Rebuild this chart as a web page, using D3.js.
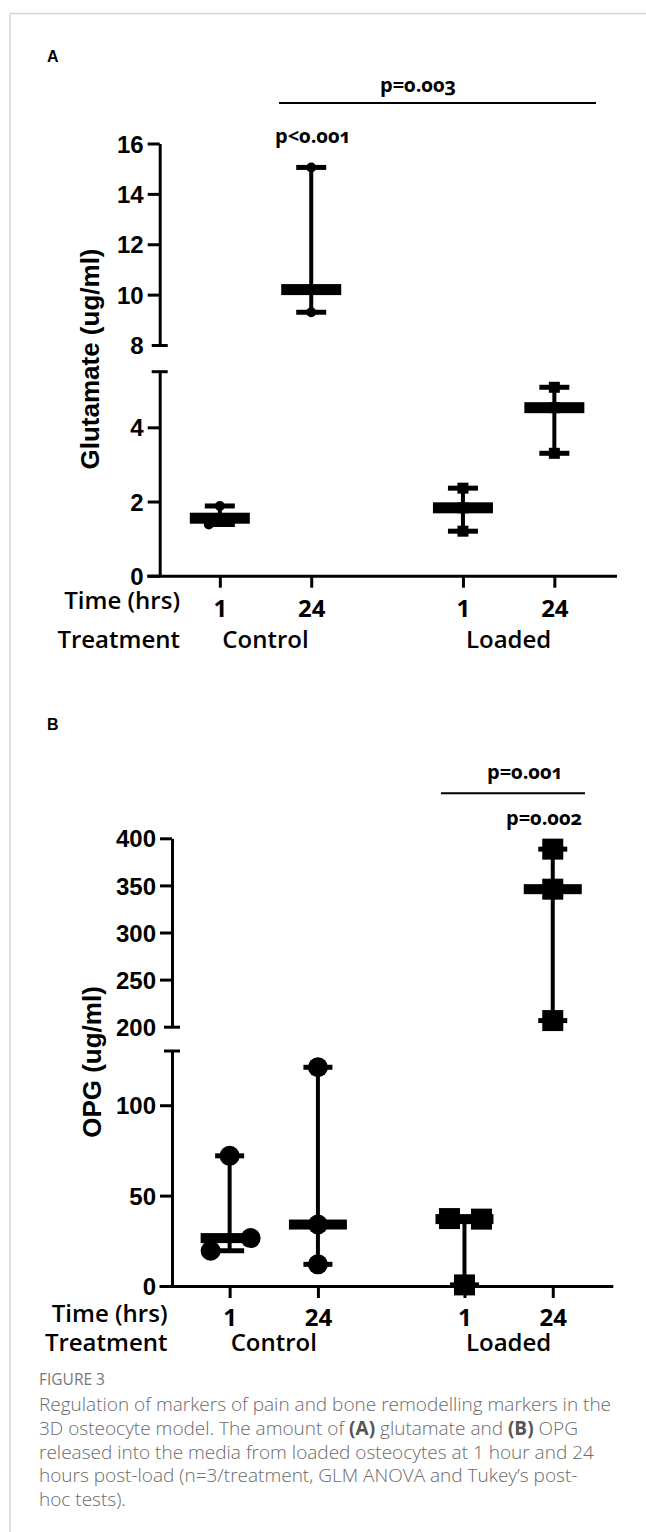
<!DOCTYPE html>
<html>
<head>
<meta charset="utf-8">
<script src="https://cdn.jsdelivr.net/npm/d3@7"></script>
<style>
  body { margin: 0; background: #fff; }
</style>
</head>
<body>
<script>
// values (n=3 per group)
var timeLabels = ["1", "24", "1", "24"];
var treatments = ["Control", "Loaded"];

// glutamate (ug/ml)
var glutControl1 = [1.88, 1.55, 1.38];
var glutControl24 = [15.05, 10.2, 9.3];
var glutLoaded1 = [2.36, 1.83, 1.2];
var glutLoaded24 = [5.08, 4.53, 3.3];

// OPG (ug/ml)
var opgControl1 = [72, 26.5, 19.5];
var opgControl24 = [121, 34, 12];
var opgLoaded1 = [37.3, 37, 0.6];
var opgLoaded24 = [388.5, 346, 206.5];

var glutLowTicks = [0, 2, 4];
var glutHighTicks = [8, 10, 12, 14, 16];
var opgLowTicks = [0, 50, 100];
var opgHighTicks = [200, 250, 300, 350, 400];

var W = 646, H = 1532;
var svg = d3.select("body").append("svg").attr("width", W).attr("height", H);

// light frame along top and left
svg.append("line").attr("x1", 10).attr("x2", W).attr("y1", 13.5).attr("y2", 13.5)
    .attr("stroke", "#d4d4d4").attr("stroke-width", 1.5);
svg.append("line").attr("x1", 10).attr("x2", 10).attr("y1", 13.5).attr("y2", H)
    .attr("stroke", "#d4d4d4").attr("stroke-width", 1.5);

// position of each group along x (gap between treatments)
var xPos = [0, 1, 2.66, 3.66];

var panels = [
    {
        letter: "A", letterY: 61.7,
        title: "Glutamate (ug/ml)", titleX: 99, titleY: 359,
        groups: [glutControl1, glutControl24, glutLoaded1, glutLoaded24],
        lowDomain: [0, 5.5], lowRange: [575.7, 371.7],
        highDomain: [8, 16], highRange: [345, 143.5],
        lowTicks: glutLowTicks, highTicks: glutHighTicks,
        xRange: [146.7, 616.5],
        jitter: [[0, 10, -11], [0, 0, 0], [0, 0, 0], [0, 0, 0]],
        r: 5, sq: 11, capW: 30, medW: 60, medH: 11,
        tickY: 41, timeY: 609, treatY: 648.3, rowX: 180,
        pvals: [{t: "p=0.003", x: 418, y: 92}, {t: "p<0.001", x: 313, y: 143}],
        bracket: {x1: 279, x2: 596, y: 103}
    },
    {
        letter: "B", letterY: 730,
        title: "OPG (ug/ml)", titleX: 101, titleY: 1062,
        groups: [opgControl1, opgControl24, opgLoaded1, opgLoaded24],
        lowDomain: [0, 130], lowRange: [1286, 1051],
        highDomain: [200, 400], highRange: [1026.7, 838.3],
        lowTicks: opgLowTicks, highTicks: opgHighTicks,
        xRange: [159, 612.8],
        jitter: [[0, 21, -19], [0, 0, 0], [-15, 17, 0], [0, 0, 0]],
        r: 10, sq: 21, capW: 29, medW: 58, medH: 10,
        tickY: 39.5, timeY: 1321.7, treatY: 1350.5, rowX: 167.5,
        pvals: [{t: "p=0.001", x: 525, y: 779}, {t: "p=0.002", x: 544, y: 825}],
        bracket: {x1: 441, x2: 585, y: 793.3}
    }
];

var numFont = "'Liberation Sans', Arial, sans-serif";
var labFont = "'Open Sans', 'Noto Sans', sans-serif";

panels.forEach(function(p) {
    var g = svg.append("g");

    var x = d3.scaleLinear().domain([-0.8, 4.34]).range(p.xRange);
    var axisX = p.xRange[0] + 13;
    var yLow = d3.scaleLinear().domain(p.lowDomain).range(p.lowRange);
    var yHigh = d3.scaleLinear().domain(p.highDomain).range(p.highRange);
    var y = function(v) { return v > p.lowDomain[1] ? yHigh(v) : yLow(v); };

    // panel letter
    g.append("text").attr("x", 47).attr("y", p.letterY).text(p.letter)
        .style("font-family", numFont).style("font-weight", "bold").style("font-size", "16px");

    // y axis, lower part
    var gl = g.append("g").attr("transform", "translate(" + axisX + ",0)")
        .call(d3.axisLeft(yLow).tickValues(p.lowTicks).tickFormat(d3.format("d"))
            .tickSize(12).tickPadding(4).tickSizeOuter(0));
    // y axis, upper part
    var gh = g.append("g").attr("transform", "translate(" + axisX + ",0)")
        .call(d3.axisLeft(yHigh).tickValues(p.highTicks).tickFormat(d3.format("d"))
            .tickSize(12).tickPadding(4).tickSizeOuter(0));
    // break: cross caps at both ends of the gap
    gh.selectAll(".tick").filter(function(d) { return d === p.highDomain[0]; })
        .select("line").attr("x1", 8).attr("x2", -8);
    gl.append("line").attr("x1", -8).attr("x2", 8)
        .attr("y1", yLow(p.lowDomain[1])).attr("y2", yLow(p.lowDomain[1]));

    [gl, gh].forEach(function(ax) {
        ax.select(".domain").attr("stroke-width", 3);
        ax.selectAll("line").attr("stroke", "#000").attr("stroke-width", 3);
        ax.selectAll("text").style("font-family", numFont).style("font-weight", "bold")
            .style("font-size", "24px").attr("dy", "0.36em").attr("fill", "#000");
    });

    // y axis title
    g.append("text").attr("transform", "translate(" + p.titleX + "," + p.titleY + ") rotate(-90)")
        .attr("text-anchor", "middle").text(p.title)
        .style("font-family", numFont).style("font-weight", "bold").style("font-size", "26px");

    // x axis
    var baseY = p.lowRange[0];
    var gx = g.append("g").attr("transform", "translate(0," + baseY + ")")
        .call(d3.axisBottom(x).tickValues(xPos).tickSize(12).tickSizeOuter(0)
            .tickFormat(function(d, i) { return timeLabels[i]; }));
    gx.select(".domain").attr("stroke-width", 3);
    gx.selectAll(".tick line").attr("stroke-width", 3);
    gx.selectAll("text").attr("y", p.tickY).attr("dy", null)
        .style("font-family", labFont).style("font-weight", 700).style("font-size", "24px")
        .attr("fill", "#000");

    // row labels
    g.append("text").attr("x", p.rowX).attr("y", p.timeY).attr("text-anchor", "end").text("Time (hrs)")
        .style("font-family", labFont).style("font-weight", 600).style("font-size", "24px");
    g.append("text").attr("x", p.rowX).attr("y", p.treatY).attr("text-anchor", "end").text("Treatment")
        .style("font-family", labFont).style("font-weight", 600).style("font-size", "24px");
    g.selectAll(".treat").data(treatments).enter().append("text")
        .attr("x", function(d, i) { return x((xPos[2 * i] + xPos[2 * i + 1]) / 2); })
        .attr("y", p.treatY).attr("text-anchor", "middle").text(function(d) { return d; })
        .style("font-family", labFont).style("font-weight", 600).style("font-size", "24px");

    // min-max lines with median
    var grp = g.selectAll(".grp").data(p.groups).enter().append("g")
        .attr("transform", function(d, i) { return "translate(" + x(xPos[i]) + ",0)"; });
    grp.append("line")
        .attr("y1", function(d) { return y(d3.min(d)); })
        .attr("y2", function(d) { return y(d3.max(d)); })
        .attr("stroke", "#000").attr("stroke-width", 4);
    grp.selectAll(".cap").data(function(d) { return d3.extent(d); }).enter().append("line")
        .attr("x1", -p.capW / 2).attr("x2", p.capW / 2)
        .attr("y1", function(v) { return y(v); }).attr("y2", function(v) { return y(v); })
        .attr("stroke", "#000").attr("stroke-width", 5);
    grp.append("rect")
        .attr("x", -p.medW / 2).attr("width", p.medW)
        .attr("y", function(d) { return y(d3.median(d)) - p.medH / 2; })
        .attr("height", p.medH).attr("fill", "#000");

    // individual points: circles for control, squares for loaded
    grp.each(function(d, gi) {
        var sel = d3.select(this);
        d.forEach(function(v, k) {
            var dx = p.jitter[gi][k];
            if (gi < 2) {
                sel.append("circle").attr("cx", dx).attr("cy", y(v)).attr("r", p.r).attr("fill", "#000");
            } else {
                sel.append("rect").attr("x", dx - p.sq / 2).attr("y", y(v) - p.sq / 2)
                    .attr("width", p.sq).attr("height", p.sq).attr("fill", "#000");
            }
        });
    });

    // significance annotations
    g.append("line").attr("x1", p.bracket.x1).attr("x2", p.bracket.x2)
        .attr("y1", p.bracket.y).attr("y2", p.bracket.y).attr("stroke", "#000").attr("stroke-width", 2);
    g.selectAll(".pv").data(p.pvals).enter().append("text")
        .attr("x", function(d) { return d.x; }).attr("y", function(d) { return d.y; })
        .attr("text-anchor", "middle").text(function(d) { return d.t; })
        .style("font-family", labFont).style("font-weight", 700).style("font-size", "20px")
        .style("font-variant-numeric", "oldstyle-nums");
});

// caption
var cap = svg.append("g").style("font-family", labFont);
cap.append("text").attr("x", 39).attr("y", 1385).text("FIGURE 3")
    .style("font-size", "15.5px").attr("fill", "#777");

var capLines = [
    [["Regulation of markers of pain and bone remodelling markers in the", 0]],
    [["3D osteocyte model. The amount of ", 0], ["(A)", 1], [" glutamate and ", 0], ["(B)", 1], [" OPG", 0]],
    [["released into the media from loaded osteocytes at 1 hour and 24", 0]],
    [["hours post-load (n=3/treatment, GLM ANOVA and Tukey\u2019s post-", 0]],
    [["hoc tests).", 0]]
];
capLines.forEach(function(line, i) {
    var t = cap.append("text").attr("x", 39).attr("y", 1410.7 + i * 23.9)
        .style("font-size", "19px").attr("fill", "#6a6a6a");
    line.forEach(function(part) {
        t.append("tspan").text(part[0])
            .style("font-weight", part[1] ? 700 : 300)
            .attr("fill", part[1] ? "#555" : "#6a6a6a");
    });
});
</script>
</body>
</html>
